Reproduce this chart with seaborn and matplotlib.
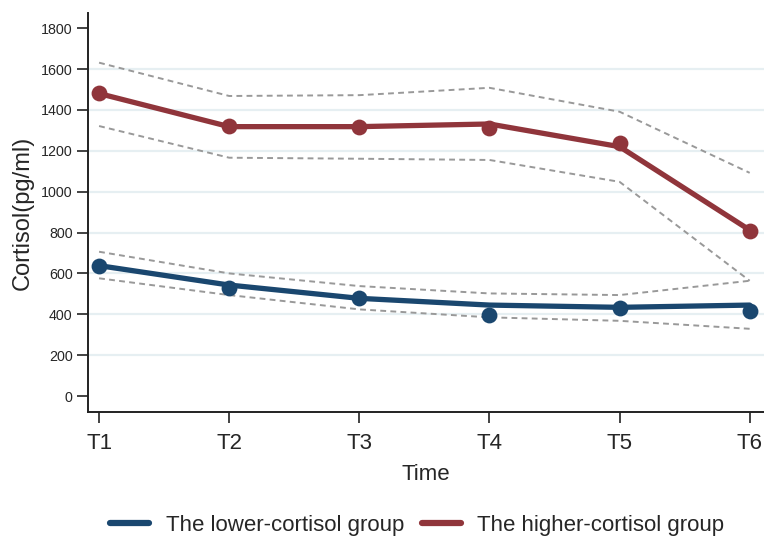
import numpy as np
import pandas as pd
import matplotlib
matplotlib.use("Agg")
import matplotlib.pyplot as plt
import seaborn as sns

sns.set_style("white")
plt.rcParams['font.family'] = ['Liberation Sans', 'DejaVu Sans']

times = ["T1", "T2", "T3", "T4", "T5", "T6"]

# lower-cortisol group
low_obs = [638, 530, 478, 396, 429, 417]
low_fit = [638, 543, 478, 445, 434, 445]
low_ci_upper = [706, 600, 538, 502, 494, 564]
low_ci_lower = [576, 494, 424, 385, 368, 329]

# higher-cortisol group
high_obs = [1484, 1321, 1318, 1310, 1236, 809]
high_fit = [1480, 1318, 1318, 1331, 1220, 812]
high_ci_upper = [1631, 1468, 1472, 1508, 1391, 1092]
high_ci_lower = [1321, 1166, 1161, 1155, 1048, 564]

yticks = [0, 200, 400, 600, 800, 1000, 1200, 1400, 1600, 1800]

navy = "#1a476f"
maroon = "#90353b"

x = np.arange(1, len(times) + 1)

fig = plt.figure(figsize=(7.64, 5.37), dpi=100)
ax = fig.add_axes([0.1152, 0.2328, 0.8848, 0.743])

# grid lines
for g in yticks[1:-1]:
    ax.axhline(g, color="#e6eff2", lw=1.6, zorder=0)

# CI bands (dashed)
for arr in [high_ci_upper, high_ci_lower, low_ci_upper, low_ci_lower]:
    sns.lineplot(x=x, y=arr, ax=ax, color="#999999", lw=1.4,
                 linestyle=(0, (3, 2.2)), zorder=2)

# fitted lines
sns.lineplot(x=x, y=low_fit, ax=ax, color=navy, lw=3.8, zorder=3,
             label="The lower-cortisol group")
sns.lineplot(x=x, y=high_fit, ax=ax, color=maroon, lw=3.8, zorder=3,
             label="The higher-cortisol group")

# observed points
sns.scatterplot(x=x, y=low_obs, ax=ax, color=navy, s=130, edgecolor=navy,
                linewidth=0, zorder=4, legend=False)
sns.scatterplot(x=x, y=high_obs, ax=ax, color=maroon, s=130, edgecolor=maroon,
                linewidth=0, zorder=4, legend=False)

ax.set_xlim(0.915, 6.11)
ax.set_ylim(-78, 1874)
ax.set_xticks(x)
ax.set_xticklabels(times, fontsize=16)
ax.set_yticks(yticks)
ax.set_yticklabels([str(v) for v in yticks], fontsize=10.3)
ax.tick_params(axis="both", direction="out", length=8, width=1.2,
               color="#222222", left=True, bottom=True)
ax.tick_params(axis="x", pad=7)
ax.tick_params(axis="y", pad=3)

for s in ["top", "right"]:
    ax.spines[s].set_visible(False)
for s in ["left", "bottom"]:
    ax.spines[s].set_color("#222222")
    ax.spines[s].set_linewidth(1.4)

ax.set_xlabel("Time", fontsize=16, labelpad=7)
ax.set_ylabel("Cortisol(pg/ml)", fontsize=17, labelpad=5)

leg = ax.legend(loc="center", bbox_to_anchor=(0.487, -0.285), ncol=2,
                frameon=False, fontsize=16, handlelength=1.75,
                handletextpad=0.75, columnspacing=0.8)
for h in leg.get_lines():
    h.set_linewidth(4.5)

fig.savefig("out.png", dpi=100)
